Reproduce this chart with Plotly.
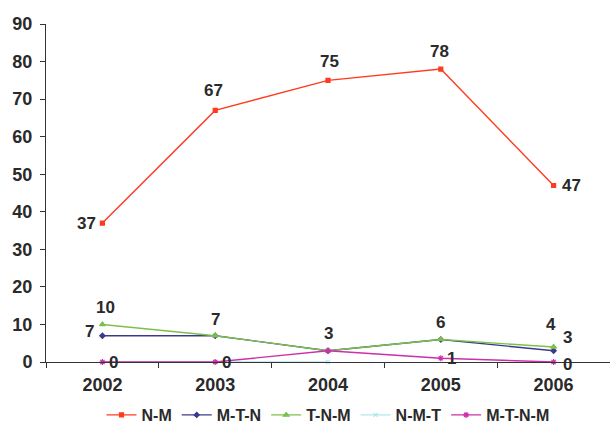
import plotly.graph_objects as go

# Years on the category axis
years = ["2002", "2003", "2004", "2005", "2006"]

# Series values
nm = [37, 67, 75, 78, 47]
mtn = [7, 7, 3, 6, 3]
tnm = [10, 7, 3, 6, 4]
nmt = [0, 0, 0, None, None]
mtnm = [0, 0, 3, 1, 0]

# Value labels: (point index, x offset px, y offset px) per series
nm_lbl = [(0, -16, 0), (1, -2, 20), (2, 1, 19), (3, -1, 18), (4, 18, 0)]
mtn_lbl = [(0, -13, 4), (4, 14, 13)]
tnm_lbl = [(0, 3, 17), (1, 0, 16), (2, 0, 17), (3, 0, 17), (4, -3, 22)]
mtnm_lbl = [(0, 11, 0), (1, 11, 0), (3, 11, 0), (4, 14, -2)]

FONT = "Liberation Sans, Arial, sans-serif"
TXT = "#2a2a2a"

fig = go.Figure()

series = [
    ("N-M", nm, "#ff3b1f", "square", 4, nm_lbl),
    ("M-T-N", mtn, "#3a3a8c", "diamond", 4, mtn_lbl),
    ("T-N-M", tnm, "#7cc04a", "triangle-up", 5, tnm_lbl),
    ("N-M-T", nmt, "#aee8ec", "x-thin", 4, []),
    ("M-T-N-M", mtnm, "#cc2fa8", "asterisk", 5, mtnm_lbl),
]

for name, vals, color, sym, msize, lbls in series:
    fig.add_trace(go.Scatter(
        x=years,
        y=vals,
        name=name,
        mode="lines+markers",
        line=dict(color=color, width=1.4),
        marker=dict(color=color, symbol=sym, size=msize,
                    line=dict(color=color, width=1.2)),
        cliponaxis=False,
    ))
    for i, dx, dy in lbls:
        # category axis: position by category index
        fig.add_annotation(
            x=i, y=vals[i], xref="x", yref="y", text=str(vals[i]),
            showarrow=False, xshift=dx, yshift=dy,
            xanchor="center", yanchor="middle",
            font=dict(family=FONT, size=17, color=TXT, weight="bold"),
        )

fig.update_layout(
    width=610,
    height=432,
    margin=dict(l=46, r=0, t=24, b=70),
    paper_bgcolor="white",
    plot_bgcolor="white",
    font=dict(family=FONT, size=16, color=TXT),
    showlegend=True,
    legend=dict(
        orientation="h",
        x=0.5, xanchor="center",
        yref="container",
        y=0.0, yanchor="bottom",
        font=dict(family=FONT, size=16, color=TXT, weight="bold"),
        itemwidth=30,
        tracegroupgap=0,
    ),
)

fig.update_xaxes(
    type="category",
    range=[-0.5, 4.5],
    showgrid=False,
    showline=True,
    linecolor="#333",
    linewidth=1,
    ticks="outside",
    tickson="boundaries",
    ticklen=5,
    tickcolor="#333",
    ticklabelstandoff=6,
    tickfont=dict(family=FONT, size=18, color=TXT, weight="bold"),
    zeroline=False,
)

fig.update_yaxes(
    range=[0, 90],
    dtick=10,
    showgrid=False,
    showline=True,
    linecolor="#333",
    linewidth=1,
    ticks="outside",
    ticklen=5,
    tickcolor="#333",
    ticklabelstandoff=4,
    tickfont=dict(family=FONT, size=18, color=TXT, weight="bold"),
    zeroline=False,
)

fig.write_html("out.html")
